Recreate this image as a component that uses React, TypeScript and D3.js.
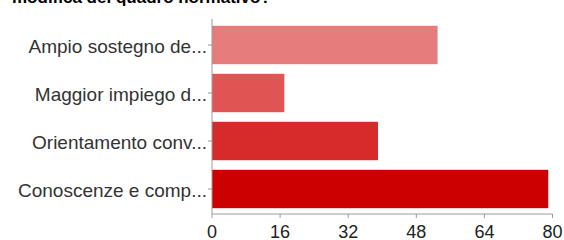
import React, { useEffect, useRef } from "react";
import * as d3 from "d3";

const categories = [
  "Ampio sostegno de...",
  "Maggior impiego d...",
  "Orientamento conv...",
  "Conoscenze e comp...",
];
const values = [53, 17, 39, 79];
const colors = ["#e67c7c", "#e05454", "#d72a2a", "#cc0000"];
const xTicks = [0, 16, 32, 48, 64, 80];
const title = "modifica del quadro normativo?";

const W = 564;
const H = 240;

export default function App() {
  const ref = useRef<SVGSVGElement>(null);

  useEffect(() => {
    const svg = d3.select(ref.current);
    svg.selectAll("*").remove();

    const left = 212, right = 552.5, top = 19, bottom = 214;
    const font = "'Liberation Sans', Arial, Helvetica, sans-serif";

    const x = d3.scaleLinear().domain([0, 80]).range([left, right]);
    const y = d3
      .scaleBand()
      .domain(categories)
      .range([21, 213])
      .paddingInner(0.2)
      .paddingOuter(0.1);

    // title (cut off at the top)
    svg
      .append("text")
      .attr("x", 12)
      .attr("y", 3)
      .style("font-family", font)
      .style("font-size", "17px")
      .style("font-weight", "bold")
      .attr("fill", "#000")
      .text(title);

    // bars
    svg
      .selectAll(".bar")
      .data(values)
      .enter()
      .append("rect")
      .attr("x", x(0))
      .attr("y", (d, i) => y(categories[i])!)
      .attr("width", (d) => x(d) - x(0))
      .attr("height", y.bandwidth())
      .attr("fill", (d, i) => colors[i]);

    // left axis
    svg
      .append("line")
      .attr("x1", left)
      .attr("x2", left)
      .attr("y1", top)
      .attr("y2", bottom)
      .attr("stroke", "#9a9a9a")
      .attr("stroke-width", 1);

    const cat = svg.append("g");
    categories.forEach((c) => {
      const cy = y(c)! + y.bandwidth() / 2;
      cat
        .append("line")
        .attr("x1", left - 4)
        .attr("x2", left)
        .attr("y1", cy)
        .attr("y2", cy)
        .attr("stroke", "#9a9a9a");
      cat
        .append("text")
        .attr("x", left - 5)
        .attr("y", cy + 1)
        .attr("dy", "0.35em")
        .attr("text-anchor", "end")
        .style("font-family", font)
        .style("font-size", "19px")
        .attr("fill", "#333")
        .text(c);
    });

    // bottom axis
    svg
      .append("line")
      .attr("x1", left)
      .attr("x2", right)
      .attr("y1", bottom)
      .attr("y2", bottom)
      .attr("stroke", "#9a9a9a");

    const tk = svg.append("g");
    xTicks.forEach((t) => {
      tk.append("line")
        .attr("x1", x(t))
        .attr("x2", x(t))
        .attr("y1", bottom)
        .attr("y2", bottom + 4)
        .attr("stroke", "#9a9a9a");
      tk.append("text")
        .attr("x", x(t))
        .attr("y", 238)
        .attr("text-anchor", "middle")
        .style("font-family", font)
        .style("font-size", "18px")
        .attr("fill", "#222")
        .text(t);
    });
  }, []);

  return (
    <svg
      ref={ref}
      width={W}
      height={H}
      style={{ position: "absolute", left: 0, top: 0, background: "#fff" }}
    />
  );
}
